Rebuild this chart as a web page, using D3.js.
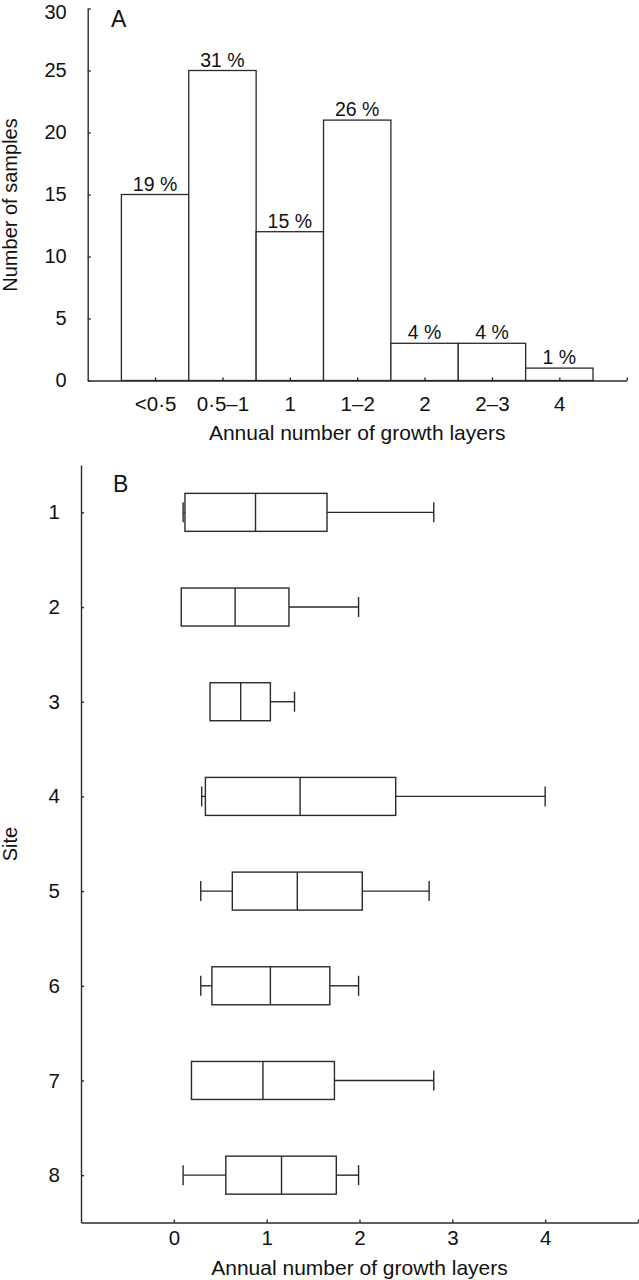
<!DOCTYPE html>
<html lang="en">
<head>
<meta charset="utf-8">
<title>Growth layers</title>
<script src="https://d3js.org/d3.v7.min.js"></script>
<style>
  body { margin: 0; background: #fff; }
  svg { display: block; font-family: "Liberation Sans", Arial, Helvetica, sans-serif; }
  .axis path, .axis line { stroke: #2a2a2a; stroke-width: 1.4; }
  .axis text { fill: #111; }
</style>
</head>
<body>
<div id="chart"></div>
<script>
// panel A - histogram
var categories = ['<0·5', '0·5–1', '1', '1–2', '2', '2–3', '4'];
var counts = [15, 25, 12, 21, 3, 3, 1];
var percents = ['19 %', '31 %', '15 %', '26 %', '4 %', '4 %', '1 %'];
var countTicks = [0, 5, 10, 15, 20, 25, 30];

// panel B - box plots per site
var sites = [1, 2, 3, 4, 5, 6, 7, 8];
var wMin   = [0.10, 0.08, 0.39, 0.30, 0.29, 0.29, 0.19, 0.10];
var q1     = [0.12, 0.08, 0.39, 0.34, 0.63, 0.41, 0.19, 0.56];
var median = [0.88, 0.66, 0.72, 1.36, 1.33, 1.04, 0.96, 1.16];
var q3     = [1.65, 1.24, 1.04, 2.39, 2.03, 1.68, 1.73, 1.75];
var wMax   = [2.80, 1.99, 1.30, 4.00, 2.75, 1.99, 2.80, 1.99];
var layerTicks = [0, 1, 2, 3, 4];

var ink = '#2a2a2a';

var svg = d3.select('#chart').append('svg')
    .attr('width', 639)
    .attr('height', 1280);

svg.append('rect').attr('width', 639).attr('height', 1280).attr('fill', '#fff');

// ---------- A ----------
var xA = d3.scaleLinear().domain([0, 8]).range([87.7, 626.7]);
var yA = d3.scaleLinear().domain([0, 30]).range([380.5, 8.5]);

var gA = svg.append('g');

gA.selectAll('rect.bar')
    .data(counts)
    .enter()
    .append('rect')
    .attr('class', 'bar')
    .attr('x', function(d, i) { return xA(i + 0.5); })
    .attr('width', xA(1) - xA(0))
    .attr('y', function(d) { return yA(d); })
    .attr('height', function(d) { return yA(0) - yA(d); })
    .attr('fill', '#fff')
    .attr('stroke', ink)
    .attr('stroke-width', 1.3);

gA.selectAll('text.pct')
    .data(counts)
    .enter()
    .append('text')
    .attr('class', 'pct')
    .attr('x', function(d, i) { return xA(i + 1); })
    .attr('y', function(d) { return yA(d) - 4; })
    .attr('text-anchor', 'middle')
    .style('font-size', '19.5px')
    .attr('fill', '#111')
    .text(function(d, i) { return percents[i]; });

gA.append('g')
    .attr('class', 'axis')
    .attr('transform', 'translate(0,' + yA(0) + ')')
    .call(d3.axisBottom(xA)
        .tickValues([1, 2, 3, 4, 5, 6, 7, 8])
        .tickFormat(function(d) { return categories[d - 1] || ''; })
        .tickSizeInner(-3).tickSizeOuter(0).tickPadding(16))
    .selectAll('text').style('font-size', '20.5px');

var yAxisA = gA.append('g')
    .attr('class', 'axis')
    .attr('transform', 'translate(' + xA(0) + ',0)')
    .call(d3.axisLeft(yA)
        .tickValues(countTicks)
        .tickSizeInner(-3).tickSizeOuter(0).tickPadding(21));
yAxisA.selectAll('text').style('font-size', '20px');
// keep the top label inside the picture
yAxisA.selectAll('text').filter(function(d) { return d === 30; }).attr('dy', '0.5em');

gA.append('text')
    .attr('x', (xA(0) + xA(8)) / 2)
    .attr('y', 440)
    .attr('text-anchor', 'middle')
    .style('font-size', '21px')
    .attr('fill', '#111')
    .text('Annual number of growth layers');

gA.append('text')
    .attr('transform', 'translate(17,205) rotate(-90)')
    .attr('text-anchor', 'middle')
    .style('font-size', '20px')
    .attr('fill', '#111')
    .text('Number of samples');

gA.append('text')
    .attr('x', 111)
    .attr('y', 26.5)
    .style('font-size', '23px')
    .attr('fill', '#111')
    .text('A');

// ---------- B ----------
var xB = d3.scaleLinear().domain([-1, 5]).range([81, 638]);
var yB = d3.scaleLinear().domain([0.5, 8.5]).range([465, 1222.5]);
var boxH = 38, capH = 20;

var gB = svg.append('g');

gB.append('g')
    .attr('class', 'axis')
    .attr('transform', 'translate(0,' + yB(8.5) + ')')
    .call(d3.axisBottom(xB)
        .tickValues(layerTicks.concat([5]))
        .tickFormat(function(d) { return d < 5 ? d : ''; })
        .tickSizeInner(-3).tickSizeOuter(0).tickPadding(8))
    .selectAll('text').style('font-size', '20.5px');

gB.append('g')
    .attr('class', 'axis')
    .attr('transform', 'translate(' + xB(-1) + ',0)')
    .call(d3.axisLeft(yB)
        .tickValues(sites)
        .tickSizeInner(-3).tickSizeOuter(0).tickPadding(21))
    .selectAll('text').style('font-size', '20.5px');

var boxes = gB.selectAll('g.site')
    .data(sites)
    .enter()
    .append('g')
    .attr('class', 'site')
    .attr('fill', 'none')
    .attr('stroke', ink)
    .attr('stroke-width', 1.4);

// left whisker
boxes.filter(function(d, i) { return wMin[i] < q1[i]; })
    .each(function(d) {
        var i = sites.indexOf(d), g = d3.select(this), cy = yB(d);
        g.append('line').attr('x1', xB(wMin[i])).attr('x2', xB(q1[i])).attr('y1', cy).attr('y2', cy);
        g.append('line').attr('x1', xB(wMin[i])).attr('x2', xB(wMin[i])).attr('y1', cy - capH / 2).attr('y2', cy + capH / 2);
    });

// right whisker, box and median
boxes.each(function(d, i) {
    var g = d3.select(this), cy = yB(d);
    g.append('line').attr('x1', xB(q3[i])).attr('x2', xB(wMax[i])).attr('y1', cy).attr('y2', cy);
    g.append('line').attr('x1', xB(wMax[i])).attr('x2', xB(wMax[i])).attr('y1', cy - capH / 2).attr('y2', cy + capH / 2);
    g.append('rect')
        .attr('x', xB(q1[i]))
        .attr('width', xB(q3[i]) - xB(q1[i]))
        .attr('y', cy - boxH / 2)
        .attr('height', boxH)
        .attr('fill', '#fff');
    g.append('line').attr('x1', xB(median[i])).attr('x2', xB(median[i])).attr('y1', cy - boxH / 2).attr('y2', cy + boxH / 2);
});

gB.append('text')
    .attr('x', (xB(-1) + xB(5)) / 2)
    .attr('y', 1275)
    .attr('text-anchor', 'middle')
    .style('font-size', '21px')
    .attr('fill', '#111')
    .text('Annual number of growth layers');

gB.append('text')
    .attr('transform', 'translate(17,844) rotate(-90)')
    .attr('text-anchor', 'middle')
    .style('font-size', '20px')
    .attr('fill', '#111')
    .text('Site');

gB.append('text')
    .attr('x', 113)
    .attr('y', 492)
    .style('font-size', '23px')
    .attr('fill', '#111')
    .text('B');
</script>
</body>
</html>
